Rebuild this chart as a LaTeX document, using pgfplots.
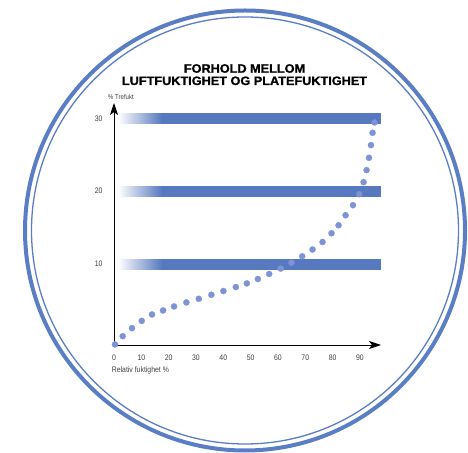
\documentclass[border=0pt]{standalone}
\usepackage{pgfplots}
\pgfplotsset{compat=1.18}
\usepackage{fontspec}
\setmainfont{Liberation Sans}
\newfontfamily\condfont[FakeStretch=0.86]{Liberation Sans}
\newfontfamily\titlefont[FakeStretch=1.04, FakeBold=1.2]{Liberation Sans}
\usetikzlibrary{arrows.meta}
\definecolor{bandblue}{HTML}{5679BF}
\definecolor{dotblue}{HTML}{7D93D4}
\definecolor{ringblue}{HTML}{5A7EC4}
\definecolor{labelgrey}{HTML}{404040}

\begin{document}
\begin{tikzpicture}[x=1pt,y=1pt]
\clip (0pt,0pt) rectangle (468pt,452pt);
% frame rings
\draw[ringblue, line width=4pt] (245pt,221.5pt) circle[radius=220pt];
\draw[ringblue, line width=1.3pt] (245pt,221.5pt) circle[radius=213.5pt];
% title
\node[font=\titlefont\fontsize{12.2}{13}\selectfont\bfseries, anchor=base] at (244.5pt,379.3pt) {FORHOLD MELLOM};
\node[font=\titlefont\fontsize{12.2}{13}\selectfont\bfseries, anchor=base] at (244.5pt,367.0pt) {LUFTFUKTIGHET OG PLATEFUKTIGHET};

\begin{axis}[
    at={(114pt,107pt)}, anchor=south west,
    scale only axis, width=267pt, height=242pt,
    xmin=0, xmax=97.7, ymin=-1.1, ymax=32.1,
    axis lines=left,
    axis line style={black, line width=0.9pt, -{Stealth[length=12pt, width=8pt, inset=3pt]}},
    clip=false,
    xtick={0,10,...,90}, ytick={10,20,30},
    major tick length=0pt,
    /pgf/number format/assume math mode=true,
    tick label style={font=\condfont\fontsize{8}{9}\selectfont, text=labelgrey},
    xticklabel style={anchor=base, yshift=-16pt},
    yticklabel style={anchor=east, xshift=-8pt},
    xlabel={Relativ fuktighet \%},
    ylabel={\% Trefukt},
    every axis x label/.style={at={(axis description cs:0,0)}, anchor=base west,
        inner sep=0pt, xshift=-2.3pt, yshift=-28pt,
        font=\condfont\fontsize{8}{9}\selectfont, text=labelgrey},
    every axis y label/.style={at={(axis description cs:0,1)}, anchor=base west,
        inner sep=0pt, xshift=-6pt, yshift=3pt,
        font=\condfont\fontsize{7}{8}\selectfont, text=labelgrey},
    colormap={fade}{color=(white) color=(bandblue)},
    point meta min=1.5, point meta max=17.6,
]
% bands at 10, 20, 30: faded start, then solid
\addplot[surf, shader=interp, point meta=x] coordinates {
    (1.5,9.25) (17.6,9.25)

    (1.5,10.75) (17.6,10.75)
};
\addplot[draw=none, fill=bandblue] coordinates {(17.4,9.25) (97.8,9.25) (97.8,10.75) (17.4,10.75)} -- cycle;
\addplot[surf, shader=interp, point meta=x] coordinates {
    (1.5,19.25) (17.6,19.25)

    (1.5,20.75) (17.6,20.75)
};
\addplot[draw=none, fill=bandblue] coordinates {(17.4,19.25) (97.8,19.25) (97.8,20.75) (17.4,20.75)} -- cycle;
\addplot[surf, shader=interp, point meta=x] coordinates {
    (1.5,29.25) (17.6,29.25)

    (1.5,30.75) (17.6,30.75)
};
\addplot[draw=none, fill=bandblue] coordinates {(17.4,29.25) (97.8,29.25) (97.8,30.75) (17.4,30.75)} -- cycle;
% moisture curve
\addplot[only marks, color=dotblue, mark=*, mark size=3.1pt,
    mark options={solid, fill=dotblue, draw=dotblue, line width=0.2pt}] coordinates {
    (0.37,-1.03) (3.19,0.11) (6.59,1.21) (10.15,2.21) (13.92,3.09)
    (17.95,3.64) (21.98,4.19) (26.48,4.74) (31.03,5.24) (35.64,5.79)
    (40.04,6.30) (44.58,6.85) (48.61,7.35) (52.64,7.95) (56.78,8.64)
    (60.99,9.39) (64.95,10.19) (68.86,11.07) (72.64,12.00) (76.30,13.03)
    (79.60,14.23) (82.16,15.33) (84.73,16.70) (87.44,18.08) (89.74,19.59)
    (91.32,21.24) (92.42,22.89) (93.30,24.58) (94.03,26.32) (94.62,28.01)
    (95.35,29.43)
};
\end{axis}
\end{tikzpicture}
\end{document}
